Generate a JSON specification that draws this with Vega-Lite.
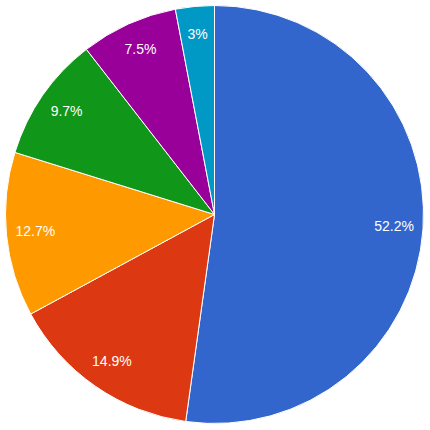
{
  "$schema": "https://vega.github.io/schema/vega-lite/v6.json",
  "width": 430,
  "height": 430,
  "autosize": {"type": "fit", "contains": "padding"},
  "padding": {"left": 0, "top": 0, "right": 1, "bottom": 1},
  "background": "white",
  "view": {"stroke": null},
  "data": {
    "values": [
      {"cat": "A", "value": 52.2, "label": "52.2%", "order": 1},
      {"cat": "B", "value": 14.9, "label": "14.9%", "order": 2},
      {"cat": "C", "value": 12.7, "label": "12.7%", "order": 3},
      {"cat": "D", "value": 9.7, "label": "9.7%", "order": 4},
      {"cat": "E", "value": 7.5, "label": "7.5%", "order": 5},
      {"cat": "F", "value": 3.0, "label": "3%", "order": 6}
    ]
  },
  "encoding": {
    "theta": {"field": "value", "type": "quantitative", "stack": true},
    "order": {"field": "order", "type": "quantitative"},
    "color": {
      "field": "cat",
      "type": "nominal",
      "scale": {
        "domain": ["A", "B", "C", "D", "E", "F"],
        "range": ["#3366cc", "#dc3912", "#ff9900", "#109618", "#990099", "#0099c6"]
      },
      "legend": null
    }
  },
  "layer": [
    {
      "mark": {"type": "arc", "outerRadius": 209, "stroke": "white", "strokeWidth": 1}
    },
    {
      "mark": {
        "type": "text",
        "radius": 180,
        "font": "Liberation Sans",
        "fontSize": 14,
        "fill": "white",
        "align": "center",
        "baseline": "middle"
      },
      "encoding": {
        "text": {"field": "label", "type": "nominal"},
        "color": {"value": "white"}
      }
    }
  ]
}
